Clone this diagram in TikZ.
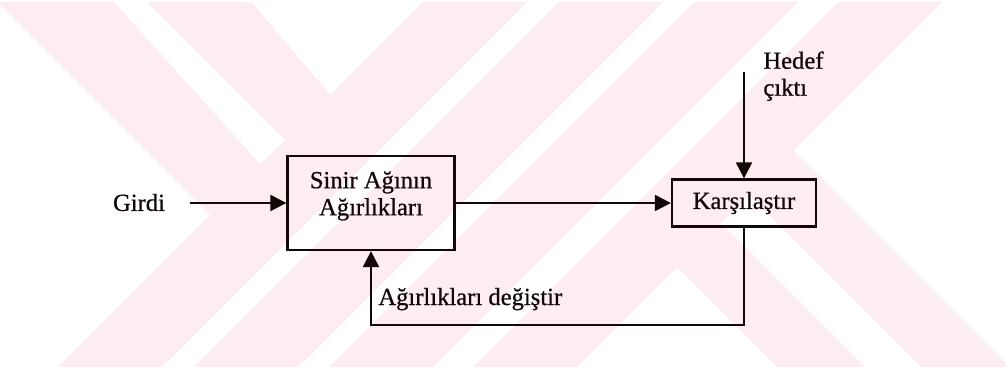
\documentclass[tikz,border=0pt]{standalone}
\usepackage{fontspec}
\setmainfont{Liberation Serif}
\newfontfamily\scanfont{Liberation Serif}[FakeBold=0.7]
\usepackage{xcolor}
\usepackage{tikz}
\usetikzlibrary{arrows.meta}
\definecolor{ink}{HTML}{120808}
\definecolor{wmark}{HTML}{FDECF0}
\tikzset{
  base/.style={draw=ink, line width=1.15pt, line join=miter},
  box/.style={draw=ink, line width=1.15pt, inner sep=0pt},
  arr/.style={base, -{Triangle[length=8pt,width=8pt]}},
  lab/.style={text=ink, font=\scanfont\fontsize{12.3}{13.5}\selectfont, inner sep=0pt},
  band/.style={fill=wmark, draw=none},
}

\begin{document}
\begin{tikzpicture}[x=0.5pt, y=-0.5pt]
  \useasboundingbox (0,0) rectangle (1006,369);
  \begin{scope}
    \clip (0,3) rectangle (1006,366);
    \foreach \a in {425,561,696,840}
      \fill[band] (\a+10,-10) -- (\a+114,-10) -- (\a-276,380) -- (\a-380,380) -- cycle;
    \foreach \c/\d in {-5/93,145/231}
      \fill[band] (\c-10,-10) -- (\d+10,-10) -- ({(477+\d)/2},{(477-\d)/2})
        -- ({(477+\c)/2},{(477-\c)/2}) -- cycle;
    \foreach \c/\d in {410/498,554/643}
      \fill[band] ({(890+\c)/2},{(890-\c)/2}) -- ({(890+\d)/2},{(890-\d)/2})
        -- (\d+400,400) -- (\c+400,400) -- cycle;
  \end{scope}

  \node[box, minimum width=83.5pt, minimum height=47pt,
    label={[lab, align=center, yshift=3.5pt]center:Sinir Ağının\\Ağırlıkları}] (agirlik) at (371,203) {};
  \node[box, lab, minimum width=72pt, minimum height=23.5pt] (karsi) at (744,203) {Karşılaştır};
  \node[lab] (girdi) at (139,202.5) {Girdi};
  \node[lab, align=left, anchor=north west] (hedef) at (763,51) {Hedef\\çıktı};
  \node[lab, anchor=base west] (degis) at (378,305) {Ağırlıkları değiştir};

  \coordinate (gin) at (190,203);
  \coordinate (hin) at (744,72);
  \coordinate (alt) at (560,325);

  \draw[arr] (gin) -- (agirlik);
  \draw[arr] (agirlik) -- (karsi);
  \draw[arr] (hin) -- (karsi);
  \draw[arr] (karsi) |- (alt) -| (agirlik);
\end{tikzpicture}
\end{document}
